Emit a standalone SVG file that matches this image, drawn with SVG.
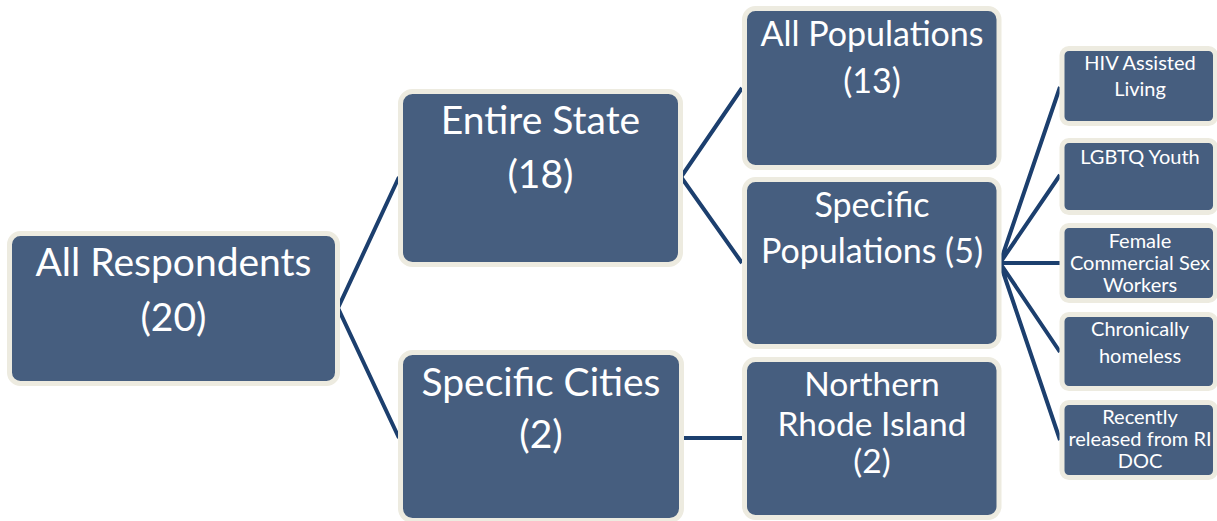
<svg xmlns="http://www.w3.org/2000/svg" width="1217" height="521" viewBox="0 0 1217 521">
<style>
.box{fill:#465E7F;stroke:#EDEBE0;stroke-width:5}
.t{fill:#FFFFFF;font-family:Lato,"Open Sans","Liberation Sans",sans-serif;text-anchor:middle}
.big{font-size:39px}
.mid{font-size:34px}
.sm{font-size:33.5px}
.tiny{font-size:20px}
.c{stroke:#1C3F6E;stroke-width:4;fill:none;stroke-linejoin:miter}
</style>
<rect width="1217" height="521" fill="#FFFFFF"/>
<g id="connectors">
<polyline class="c" points="399,177 338,308 399,438"/>
<polyline class="c" points="742,88 681,177 742,263"/>
<line class="c" x1="684" y1="438" x2="743" y2="438"/>
<path class="c" d="M1060,87 L1000,263 M1060,175 L1000,263 M1060,263 L1000,263 M1060,352 L1000,263 M1060,440 L1000,263"/>
</g>
<g id="all-respondents">
<rect class="box" x="9.5" y="233.5" width="328" height="150" rx="11"/>
<text class="t big" x="173.5" y="276">All Respondents</text>
<text class="t big" x="173.5" y="331">(20)</text>
</g>
<g id="entire-state">
<rect class="box" x="400.5" y="91.5" width="280" height="173" rx="12"/>
<text class="t big" x="540.5" y="134">Entire State</text>
<text class="t big" x="540.5" y="188">(18)</text>
</g>
<g id="specific-cities">
<rect class="box" x="400.5" y="352.5" width="281" height="168" rx="12"/>
<text class="t big" x="541" y="396">Specific Cities</text>
<text class="t big" x="541" y="448">(2)</text>
</g>
<g id="all-populations">
<rect class="box" x="744.5" y="8.5" width="254.5" height="159" rx="11"/>
<text class="t mid" x="872" y="46">All Populations</text>
<text class="t mid" x="872" y="93">(13)</text>
</g>
<g id="specific-populations">
<rect class="box" x="744.5" y="179.5" width="254.5" height="167" rx="11"/>
<text class="t mid" x="872" y="217">Specific</text>
<text class="t mid" x="872" y="263">Populations (5)</text>
</g>
<g id="northern-rhode-island">
<rect class="box" x="744.5" y="359.5" width="254.5" height="158" rx="11"/>
<text class="t sm" x="872" y="396">Northern</text>
<text class="t sm" x="872" y="436">Rhode Island</text>
<text class="t sm" x="872" y="473">(2)</text>
</g>
<g id="hiv-assisted-living">
<rect class="box" x="1062" y="48.5" width="153.5" height="75" rx="7"/>
<text class="t tiny" x="1140" y="70">HIV Assisted</text>
<text class="t tiny" x="1140" y="96">Living</text>
</g>
<g id="lgbtq-youth">
<rect class="box" x="1062" y="140.5" width="153.5" height="72" rx="7"/>
<text class="t tiny" x="1140" y="164">LGBTQ Youth</text>
</g>
<g id="female-commercial-sex-workers">
<rect class="box" x="1062" y="225.5" width="153.5" height="75" rx="7"/>
<text class="t tiny" x="1140" y="248">Female</text>
<text class="t tiny" x="1140" y="270">Commercial Sex</text>
<text class="t tiny" x="1140" y="292">Workers</text>
</g>
<g id="chronically-homeless">
<rect class="box" x="1062" y="314.5" width="153.5" height="74" rx="7"/>
<text class="t tiny" x="1140" y="336">Chronically</text>
<text class="t tiny" x="1140" y="363">homeless</text>
</g>
<g id="recently-released">
<rect class="box" x="1062" y="402.5" width="153.5" height="75" rx="7"/>
<text class="t tiny" x="1140" y="424">Recently</text>
<text class="t tiny" x="1140" y="446">released from RI</text>
<text class="t tiny" x="1140" y="468">DOC</text>
</g>
</svg>
